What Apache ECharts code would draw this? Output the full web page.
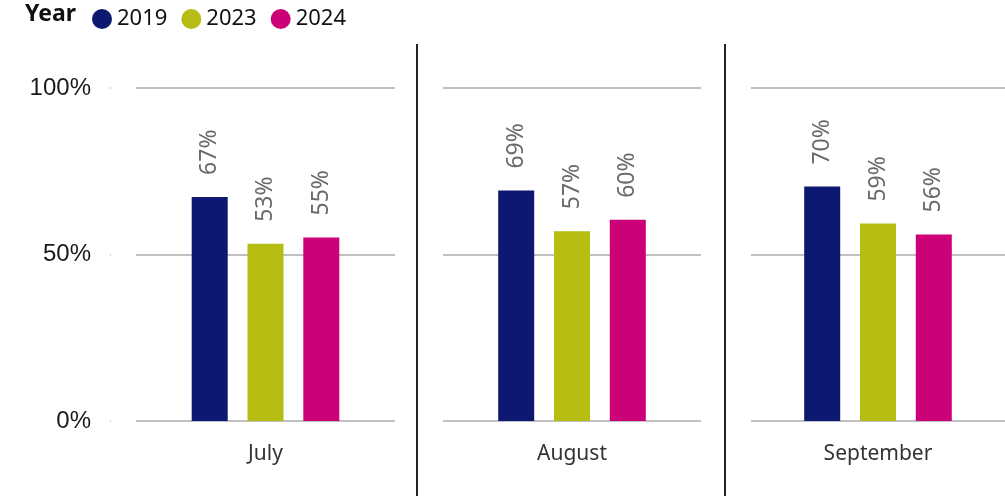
<!DOCTYPE html>
<html>
<head>
<meta charset="utf-8">
<script src="https://cdn.jsdelivr.net/npm/echarts@6/dist/echarts.min.js"></script>
<style>
  html, body { margin: 0; padding: 0; background: #fff; }
  #chart { width: 1005px; height: 496px; }
</style>
</head>
<body>
<div id="chart"></div>
<script>
  // data
  const months = ['July', 'August', 'September'];
  const years = ['2019', '2023', '2024'];
  const v2019 = [67.3, 69.2, 70.4];
  const v2023 = [53.2, 57.0, 59.3];
  const v2024 = [55.1, 60.4, 56.0];
  const yTicks = [0, 50, 100];

  const colors = ['#0d1870', '#b5bd12', '#cc0077'];
  const values = [v2019, v2023, v2024];
  const font = 'Noto Sans, Open Sans, sans-serif';

  // one grid per month
  const panels = [
    { left: 136, width: 259 },
    { left: 443, width: 258 },
    { left: 751, width: 254 }
  ];

  let grids = [], xAxes = [], yAxes = [], series = [];
  panels.forEach(function (p, i) {
    grids.push({ left: p.left, width: p.width, top: 88, height: 333 });
    xAxes.push({
      gridIndex: i,
      type: 'category',
      data: [months[i]],
      axisLine: { show: false },
      axisTick: { show: false },
      axisLabel: { fontSize: 21, color: '#333', fontFamily: font, margin: 23 }
    });
    yAxes.push({
      gridIndex: i,
      type: 'value',
      min: 0,
      max: 100,
      interval: 50,
      offset: i === 0 ? 25 : 0,
      axisLine: { show: false },
      axisTick: { show: i === 0, length: 1, lineStyle: { color: '#ccc', width: 2 } },
      axisLabel: {
        show: i === 0,
        fontSize: 24,
        color: '#1a1a1a',
        fontFamily: 'Liberation Sans, Arial, sans-serif',
        margin: 20,
        formatter: function (v) { return yTicks.indexOf(v) >= 0 ? v + '%' : ''; }
      },
      splitLine: { lineStyle: { color: '#c0c0c0', width: 2 } }
    });
    years.forEach(function (y, k) {
      series.push({
        name: y,
        type: 'bar',
        xAxisIndex: i,
        yAxisIndex: i,
        data: [values[k][i]],
        barWidth: 36,
        barGap: '55%',
        itemStyle: { color: colors[k] },
        label: {
          show: true,
          position: 'top',
          rotate: 90,
          align: 'left',
          verticalAlign: 'middle',
          distance: 22,
          fontSize: 23,
          color: '#6a6a6a',
          fontFamily: font,
          formatter: function (d) { return Math.round(d.value) + '%'; }
        }
      });
    });
  });

  let myChart = echarts.init(document.getElementById('chart'));
  myChart.setOption({
    animation: false,
    color: colors,
    legend: {
      left: 87,
      top: 3,
      data: years,
      icon: 'circle',
      itemWidth: 20,
      itemHeight: 20,
      itemGap: 14,
      textStyle: { fontSize: 22, color: '#111', fontFamily: font }
    },
    graphic: [
      { type: 'text', left: 25, top: 3, style: { text: 'Year', fontSize: 23, fontWeight: 'bold', fill: '#111', fontFamily: font } },
      { type: 'line', shape: { x1: 417, y1: 44, x2: 417, y2: 496 }, style: { stroke: '#222', lineWidth: 2 } },
      { type: 'line', shape: { x1: 725, y1: 44, x2: 725, y2: 496 }, style: { stroke: '#222', lineWidth: 2 } }
    ],
    grid: grids,
    xAxis: xAxes,
    yAxis: yAxes,
    series: series
  });
</script>
</body>
</html>
